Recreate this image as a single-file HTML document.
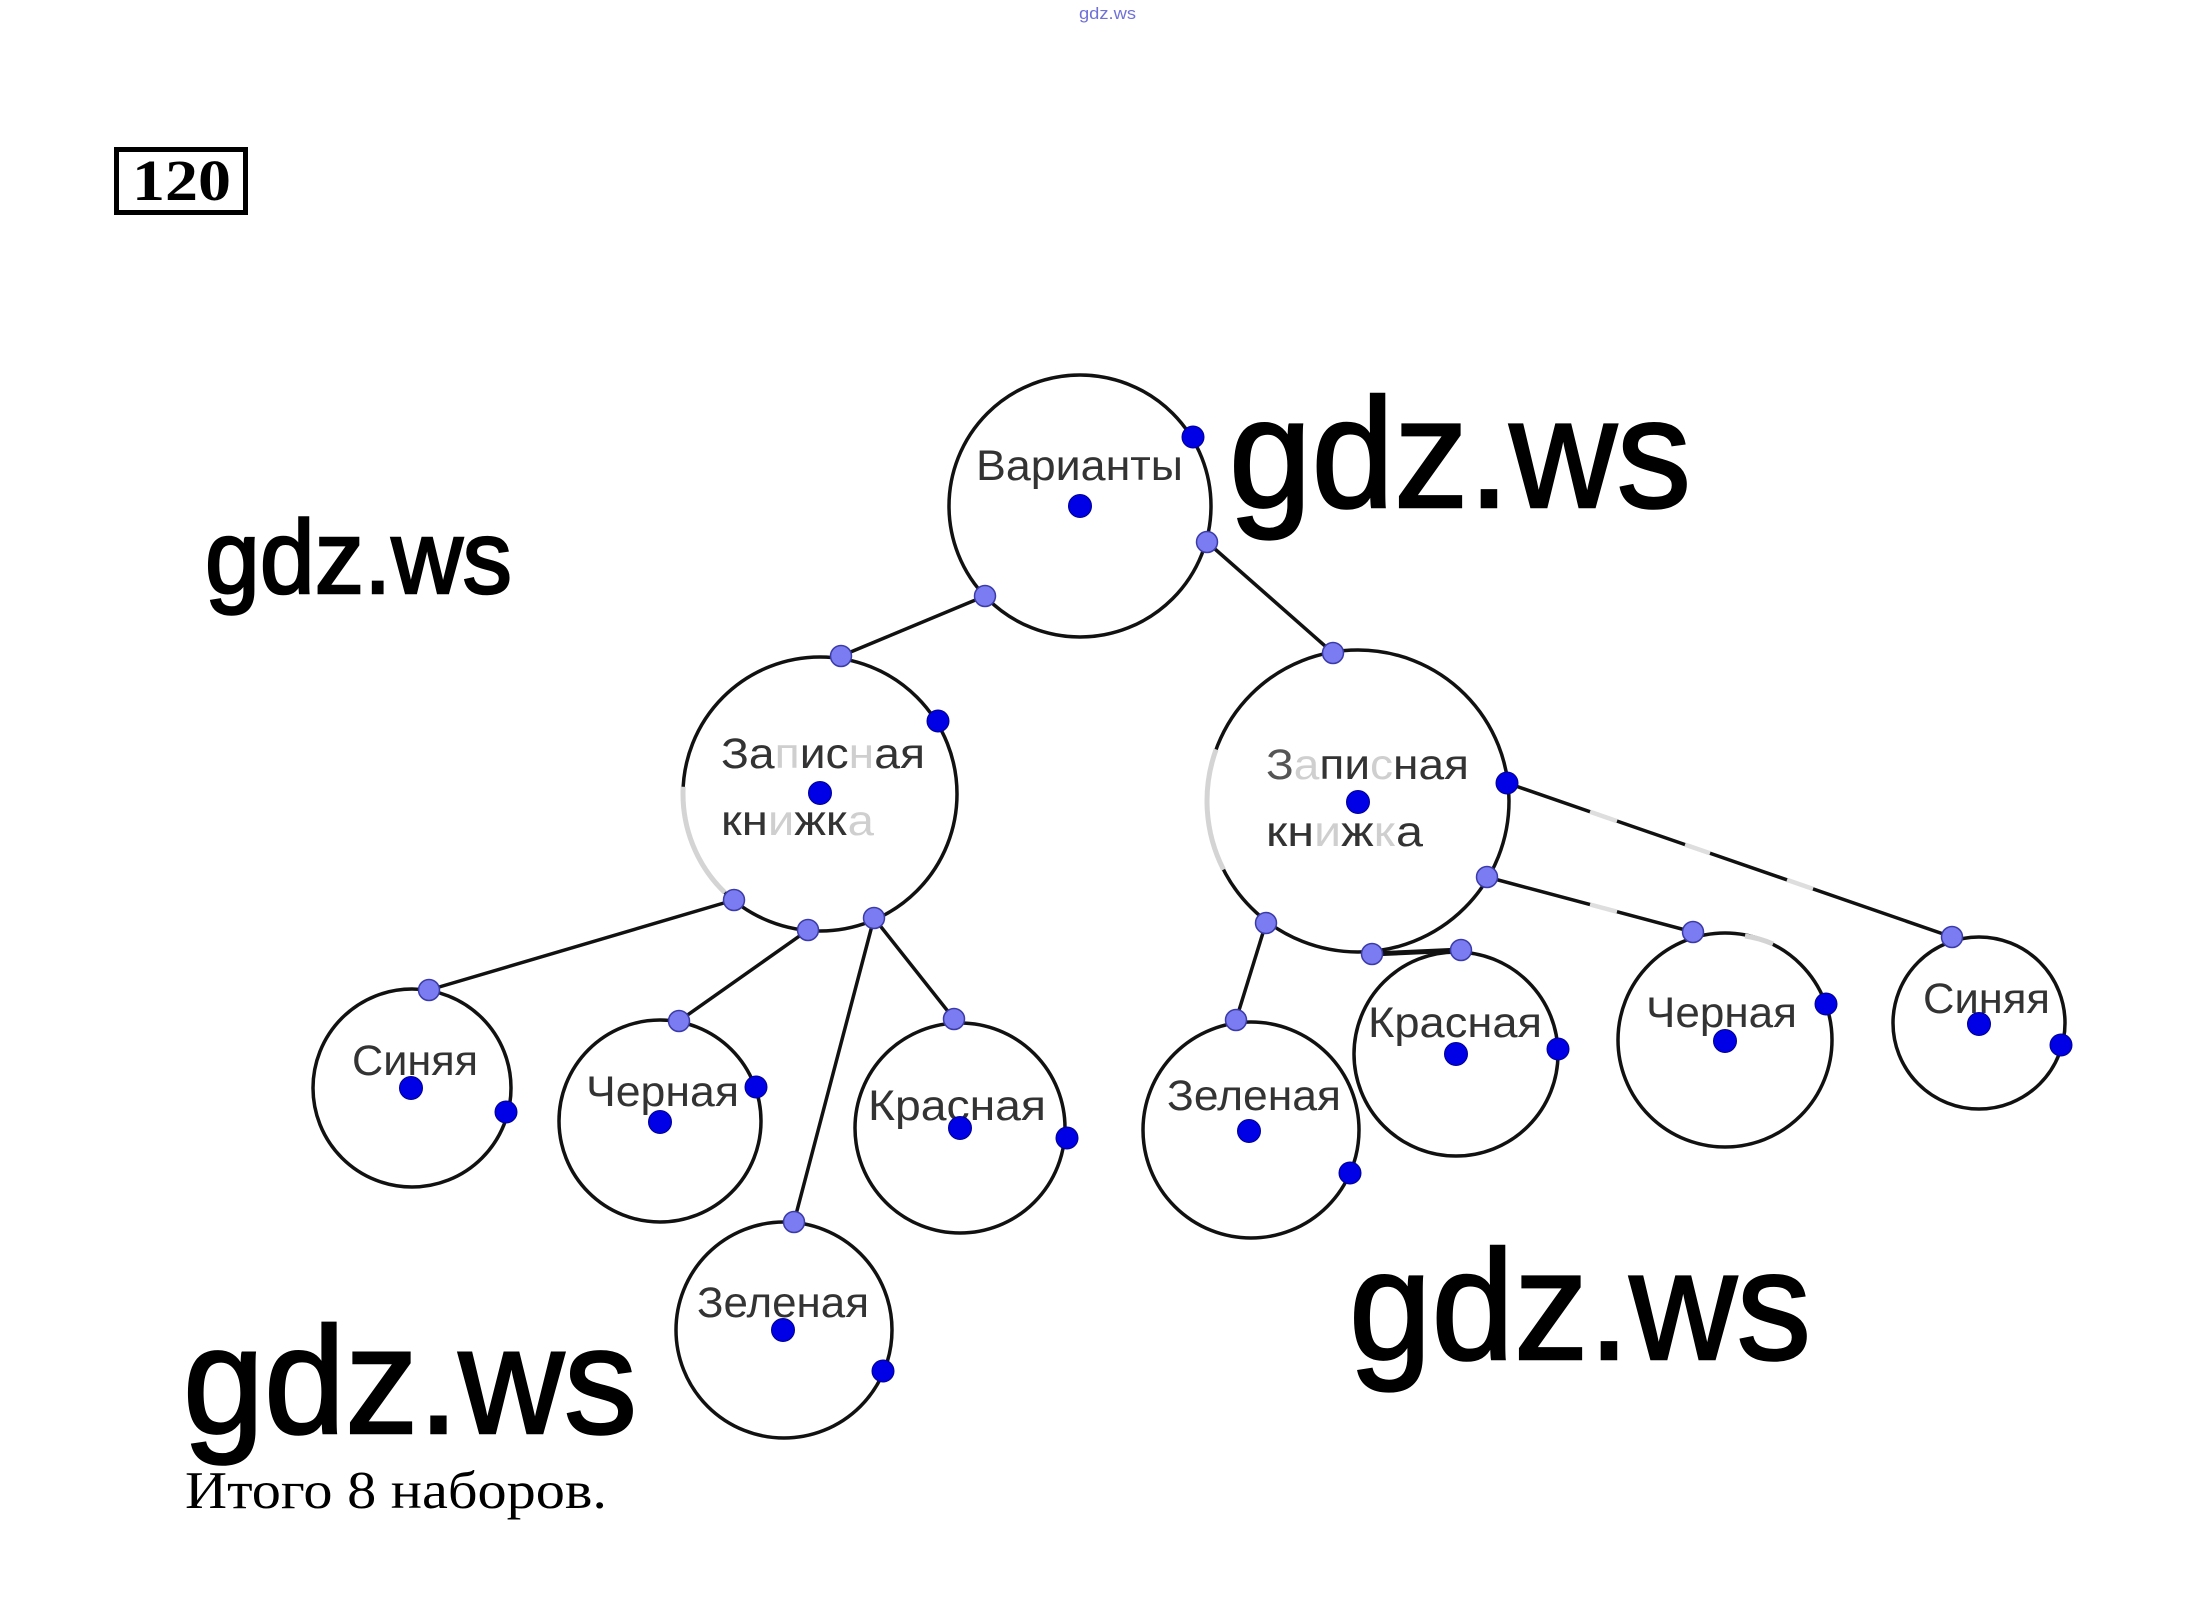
<!DOCTYPE html>
<html><head><meta charset="utf-8"><style>
html,body{margin:0;padding:0;background:#fff;}
svg{display:block;}
.lbl{font-family:"Liberation Sans","DejaVu Sans",sans-serif;font-size:43px;fill:#333;}
.wm{font-family:"Liberation Sans","DejaVu Sans",sans-serif;fill:#000;stroke:#000;stroke-width:2.5;}
.f{fill:#cfcfcf;}
</style></head><body>
<svg width="2193" height="1606" viewBox="0 0 2193 1606" xmlns="http://www.w3.org/2000/svg">
<rect width="2193" height="1606" fill="#fff"/>
<text x="1079" y="19" font-family="Liberation Sans, sans-serif" font-size="17" fill="#7070d8" textLength="57" lengthAdjust="spacingAndGlyphs">gdz.ws</text>
<rect x="116.5" y="149.5" width="129" height="63" fill="none" stroke="#000" stroke-width="5"/>
<text x="132" y="200" font-family="Liberation Serif, serif" font-weight="bold" font-size="58" fill="#000" textLength="99" lengthAdjust="spacingAndGlyphs">120</text>

<g stroke="#111" stroke-width="3.5" fill="none">
<line x1="985" y1="596" x2="841" y2="656"/>
<line x1="1207" y1="542" x2="1333" y2="653"/>
<line x1="734" y1="900" x2="429" y2="990"/>
<line x1="808" y1="930" x2="679" y2="1021"/>
<line x1="874" y1="918" x2="794" y2="1222"/>
<line x1="874" y1="918" x2="954" y2="1019"/>
<line x1="1266" y1="923" x2="1236" y2="1020"/>
<line x1="1372" y1="954" x2="1461" y2="950" stroke-width="5"/>
<line x1="1487" y1="877" x2="1693" y2="932"/>
<line x1="1507" y1="783" x2="1952" y2="937"/>
</g>
<g stroke="#dedede" stroke-width="4.5">
<line x1="1590" y1="904.5" x2="1617" y2="911.7"/>
<line x1="1590" y1="811.7" x2="1617" y2="821.1"/>
<line x1="1685" y1="844.6" x2="1710" y2="853.2"/>
<line x1="1787" y1="879.9" x2="1813" y2="888.9"/>
</g>

<g stroke="#111" stroke-width="3.5" fill="none">
<circle cx="1080" cy="506" r="131"/>
<circle cx="820" cy="794" r="137"/>
<circle cx="1358" cy="801" r="151"/>
<circle cx="412" cy="1088" r="99"/>
<circle cx="660" cy="1121" r="101"/>
<circle cx="960" cy="1128" r="105"/>
<circle cx="784" cy="1330" r="108"/>
<circle cx="1251" cy="1130" r="108"/>
<circle cx="1456" cy="1054" r="102"/>
<circle cx="1725" cy="1040" r="107"/>
<circle cx="1979" cy="1023" r="86"/>
</g>
<g stroke="#d4d4d4" stroke-width="5" fill="none">
<path d="M 724.8 892.5 A 137 137 0 0 1 683.2 786.8"/>
<path d="M 1223.5 869.6 A 151 151 0 0 1 1216.1 749.4"/>
<path d="M 1745 936 A 107 107 0 0 1 1773 944"/>
</g>

<text class="lbl" x="976" y="480" textLength="207" lengthAdjust="spacingAndGlyphs">Варианты</text>
<text class="lbl" x="721" y="768" textLength="204" lengthAdjust="spacingAndGlyphs">За<tspan class="f">п</tspan>ис<tspan class="f">н</tspan>ая</text>
<text class="lbl" x="721" y="835" textLength="153" lengthAdjust="spacingAndGlyphs">кн<tspan class="f">и</tspan>жк<tspan class="f">а</tspan></text>
<text class="lbl" x="1266" y="779" textLength="203" lengthAdjust="spacingAndGlyphs"><tspan fill="#555">З</tspan><tspan class="f">а</tspan>пи<tspan class="f">с</tspan>ная</text>
<text class="lbl" x="1266" y="846" textLength="157" lengthAdjust="spacingAndGlyphs">кн<tspan class="f">и</tspan>ж<tspan class="f">к</tspan>а</text>
<text class="lbl" x="352" y="1075" textLength="126" lengthAdjust="spacingAndGlyphs">Синяя</text>
<text class="lbl" x="586" y="1106" textLength="153" lengthAdjust="spacingAndGlyphs">Черная</text>
<text class="lbl" x="868" y="1120" textLength="178" lengthAdjust="spacingAndGlyphs">Красная</text>
<text class="lbl" x="697" y="1317" textLength="172" lengthAdjust="spacingAndGlyphs">Зеленая</text>
<text class="lbl" x="1167" y="1110" textLength="174" lengthAdjust="spacingAndGlyphs">Зеленая</text>
<text class="lbl" x="1368" y="1037" textLength="174" lengthAdjust="spacingAndGlyphs">Красная</text>
<text class="lbl" x="1646" y="1027" textLength="151" lengthAdjust="spacingAndGlyphs">Черная</text>
<text class="lbl" x="1923" y="1013" textLength="127" lengthAdjust="spacingAndGlyphs">Синяя</text>

<!-- light connection dots -->
<g fill="#7b7bf2" stroke="#3a3aa8" stroke-width="1.5">
<circle cx="985" cy="596" r="10.5"/>
<circle cx="1207" cy="542" r="10.5"/>
<circle cx="841" cy="656" r="10.5"/>
<circle cx="1333" cy="653" r="10.5"/>
<circle cx="734" cy="900" r="10.5"/>
<circle cx="808" cy="930" r="10.5"/>
<circle cx="874" cy="918" r="10.5"/>
<circle cx="1266" cy="923" r="10.5"/>
<circle cx="1372" cy="954" r="10.5"/>
<circle cx="1487" cy="877" r="10.5"/>
<circle cx="429" cy="990" r="10.5"/>
<circle cx="679" cy="1021" r="10.5"/>
<circle cx="954" cy="1019" r="10.5"/>
<circle cx="794" cy="1222" r="10.5"/>
<circle cx="1236" cy="1020" r="10.5"/>
<circle cx="1461" cy="950" r="10.5"/>
<circle cx="1693" cy="932" r="10.5"/>
<circle cx="1952" cy="937" r="10.5"/>
</g>
<!-- dark dots -->
<g fill="#0000e6" stroke="#000090" stroke-width="1">
<circle cx="1080" cy="506" r="11.5"/>
<circle cx="1193" cy="437" r="11"/>
<circle cx="820" cy="793" r="11.5"/>
<circle cx="938" cy="721" r="11"/>
<circle cx="1358" cy="802" r="11.5"/>
<circle cx="1507" cy="783" r="11"/>
<circle cx="411" cy="1088" r="11.5"/>
<circle cx="506" cy="1112" r="11"/>
<circle cx="660" cy="1122" r="11.5"/>
<circle cx="756" cy="1087" r="11"/>
<circle cx="960" cy="1128" r="11.5"/>
<circle cx="1067" cy="1138" r="11"/>
<circle cx="783" cy="1330" r="11.5"/>
<circle cx="883" cy="1371" r="11"/>
<circle cx="1249" cy="1131" r="11.5"/>
<circle cx="1350" cy="1173" r="11"/>
<circle cx="1456" cy="1054" r="11.5"/>
<circle cx="1558" cy="1049" r="11"/>
<circle cx="1725" cy="1041" r="11.5"/>
<circle cx="1826" cy="1004" r="11"/>
<circle cx="1979" cy="1024" r="11.5"/>
<circle cx="2061" cy="1045" r="11"/>
</g>

<!-- watermarks -->
<text class="wm" x="1229" y="507" font-size="156" textLength="462" lengthAdjust="spacingAndGlyphs">gdz.ws</text>
<text class="wm" x="205" y="593" font-size="104" stroke-width="1.8" textLength="307" lengthAdjust="spacingAndGlyphs">gdz.ws</text>
<text class="wm" x="183" y="1433" font-size="152" textLength="454" lengthAdjust="spacingAndGlyphs">gdz.ws</text>
<text class="wm" x="1349" y="1359" font-size="156" textLength="462" lengthAdjust="spacingAndGlyphs">gdz.ws</text>

<text x="185" y="1508" font-family="Liberation Serif, serif" font-size="53" fill="#000" textLength="422" lengthAdjust="spacingAndGlyphs">Итого 8 наборов.</text>
</svg>
</body></html>
